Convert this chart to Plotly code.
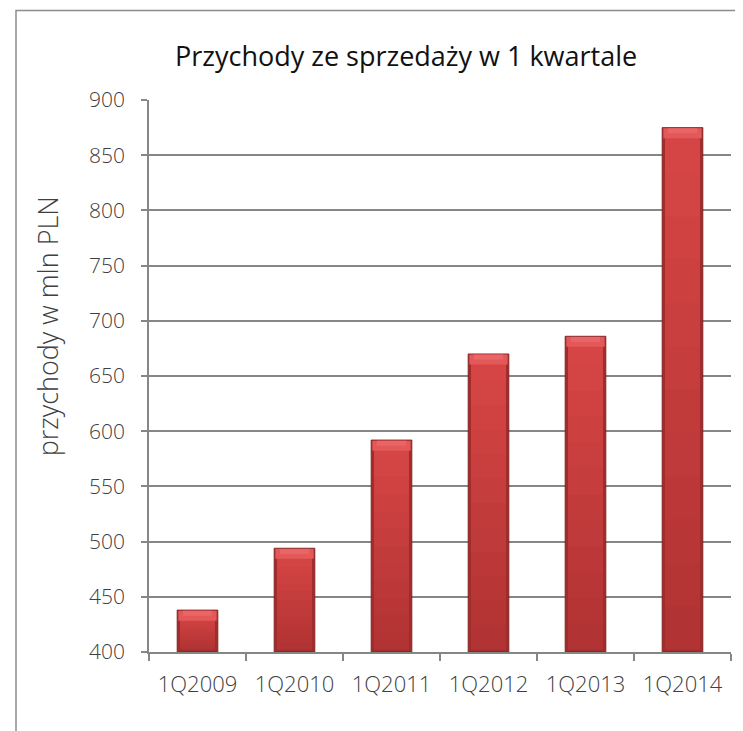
import plotly.graph_objects as go

categories = ["1Q2009", "1Q2010", "1Q2011", "1Q2012", "1Q2013", "1Q2014"]
revenue = [438, 494, 592, 670, 686, 875]
y_ticks = [400, 450, 500, 550, 600, 650, 700, 750, 800, 850, 900]

title_text = "Przychody ze sprzedaży w 1 kwartale"
y_title = "przychody w mln PLN"

AXIS_MIN = 400
BAR_W = 0.42
FONT = "Open Sans"

# page body margin offset (browser default 8px)
OFF = 8
W, H = 743, 731
PL, PR, PT, PB = 149, 731, 99.5, 652  # plot area in screen px


def px_x(x):
    return (x - PL) / (PR - PL)


def px_y(y):
    return (PB - y) / (PB - PT)


def mix(c1, c2, t):
    a = [int(c1[i:i + 2], 16) for i in (1, 3, 5)]
    b = [int(c2[i:i + 2], 16) for i in (1, 3, 5)]
    return "#" + "".join(f"{round(a[k] + (b[k] - a[k]) * t):02x}" for k in range(3))


fig = go.Figure()

# outer bar (dark edges)
fig.add_trace(go.Bar(
    x=categories, y=[v - AXIS_MIN for v in revenue], base=AXIS_MIN,
    width=BAR_W, marker=dict(color="#A22C2C", line=dict(color="#7A1E1E", width=0.8)),
    hoverinfo="skip", showlegend=False))

# inner body with vertical gradient (bands, fractions of each bar height)
inner = 2
N = 12
top_c, bot_c = "#D84646", "#B03232"
for k in range(N):
    f0, f1 = k / N, (k + 1) / N
    fig.add_trace(go.Bar(
        x=categories,
        y=[(v - AXIS_MIN - 2 * inner) * (f1 - f0) + (0.6 if k < N - 1 else 0) for v in revenue],
        base=[AXIS_MIN + inner + (v - AXIS_MIN - 2 * inner) * f0 for v in revenue],
        width=BAR_W * 0.86,
        marker=dict(color=mix(bot_c, top_c, (k + 0.5) / N), line=dict(width=0)),
        hoverinfo="skip", showlegend=False))

# top bevel highlight
bev = 9
fig.add_trace(go.Bar(
    x=categories, y=[bev for v in revenue], base=[v - bev - 0.6 for v in revenue],
    width=BAR_W * 0.94, marker=dict(color="#E35858", line=dict(width=0)),
    hoverinfo="skip", showlegend=False))
fig.add_trace(go.Bar(
    x=categories, y=[bev * 0.5 for v in revenue], base=[v - bev * 0.5 - 0.6 for v in revenue],
    width=BAR_W * 0.72, marker=dict(color="#EA6666", line=dict(width=0)),
    hoverinfo="skip", showlegend=False))

fig.update_layout(
    width=W, height=H,
    barmode="overlay",
    paper_bgcolor="white", plot_bgcolor="white",
    margin=dict(l=PL - OFF, r=W - (PR - OFF), t=PT - OFF, b=H - (PB - OFF)),
    font=dict(family=FONT, color="#404040"),
    showlegend=False,
)

fig.update_xaxes(
    type="category", range=[-0.5, 5.5],
    showgrid=False,
    showline=True, linecolor="#868686", linewidth=1.5,
    ticks="outside", ticklen=7, tickcolor="#868686", tickwidth=1.5,
    tickson="boundaries",
    tickfont=dict(family=FONT, size=22, color="#404040", weight=300),
    ticklabelstandoff=12,
)
fig.update_yaxes(
    range=[AXIS_MIN, 900],
    tickvals=y_ticks, ticktext=[str(t) for t in y_ticks],
    showgrid=True, gridcolor="#868686", gridwidth=1.5,
    showline=True, linecolor="#868686", linewidth=1.5,
    ticks="outside", ticklen=6, tickcolor="#868686", tickwidth=1.5,
    tickfont=dict(family=FONT, size=21, color="#404040", weight=300),
    ticklabelstandoff=12,
    zeroline=False,
)

fig.add_annotation(
    text=title_text, xref="paper", yref="paper",
    x=px_x(406), y=px_y(55),
    xanchor="center", yanchor="middle", showarrow=False,
    font=dict(family=FONT, size=27, color="#111111", weight=400),
)
fig.add_annotation(
    text=y_title, xref="paper", yref="paper",
    x=px_x(47), y=px_y(326),
    xanchor="center", yanchor="middle", showarrow=False, textangle=-90,
    font=dict(family=FONT, size=27, color="#404040", weight=300),
)
# chart outer border
fig.add_shape(
    type="rect", xref="paper", yref="paper",
    x0=px_x(16), x1=px_x(790),
    y0=px_y(790), y1=px_y(10),
    line=dict(color="#8C8C8C", width=1.5), fillcolor="rgba(0,0,0,0)",
    layer="below",
)

fig.write_html("out.html")
